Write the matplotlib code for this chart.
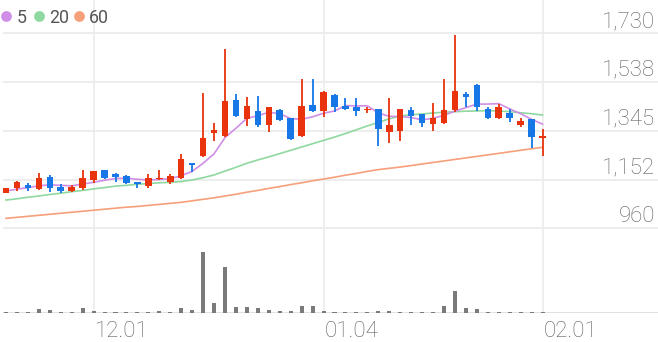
import matplotlib
matplotlib.use("Agg")
import matplotlib.pyplot as plt
import numpy as np

plt.rcParams['font.family'] = ['Roboto', 'DejaVu Sans']

# ---------------- data ----------------
x_labels = {8: "12.01", 29: "01.04", 49: "02.01"}

opens = [1101, 1121, 1130, 1116, 1162, 1123, 1109, 1120, 1151, 1190,
         1176, 1168, 1143, 1127, 1154, 1142, 1158, 1217, 1246, 1335,
         1324, 1467, 1390, 1424, 1368, 1426, 1394, 1326, 1448, 1422,
         1485, 1444, 1437, 1426, 1430, 1341, 1345, 1427, 1410, 1370,
         1374, 1427, 1489, 1524, 1431, 1394, 1414, 1368, 1390, 1315]
highs = [1120, 1146, 1140, 1179, 1171, 1134, 1131, 1189, 1187, 1192,
         1178, 1172, 1145, 1173, 1189, 1175, 1253, 1219, 1495, 1377,
         1666, 1489, 1479, 1481, 1440, 1432, 1396, 1548, 1550, 1500,
         1490, 1475, 1475, 1437, 1432, 1473, 1432, 1437, 1412, 1453,
         1548, 1722, 1499, 1529, 1440, 1450, 1430, 1394, 1390, 1352]
lows = [1099, 1109, 1108, 1113, 1105, 1099, 1104, 1112, 1140, 1155,
        1142, 1134, 1118, 1121, 1152, 1135, 1155, 1181, 1243, 1306,
        1320, 1400, 1364, 1359, 1341, 1383, 1308, 1322, 1420, 1398,
        1420, 1428, 1404, 1414, 1283, 1298, 1306, 1368, 1359, 1344,
        1370, 1420, 1440, 1423, 1392, 1392, 1381, 1361, 1276, 1246]
closes = [1118, 1142, 1121, 1160, 1121, 1108, 1125, 1158, 1185, 1158,
          1164, 1141, 1136, 1158, 1159, 1167, 1234, 1211, 1315, 1348,
          1462, 1403, 1443, 1367, 1437, 1387, 1311, 1443, 1423, 1499,
          1437, 1431, 1424, 1431, 1351, 1368, 1430, 1404, 1374, 1394,
          1427, 1503, 1479, 1440, 1394, 1440, 1394, 1385, 1319, 1326]

ma5 = [1108, 1115, 1121, 1128, 1132, 1130, 1128, 1135, 1142, 1150,
       1157, 1158, 1154, 1151, 1153, 1156, 1168, 1185, 1217, 1254,
       1318, 1355, 1394, 1404, 1418, 1412, 1393, 1390, 1400, 1414,
       1423, 1444, 1443, 1443, 1415, 1402, 1401, 1397, 1388, 1394,
       1406, 1422, 1436, 1450, 1450, 1452, 1431, 1412, 1390, 1371]
ma20 = [1072, 1077, 1083, 1088, 1094, 1099, 1105, 1110, 1116, 1121,
        1127, 1130, 1134, 1137, 1140, 1142, 1145, 1151, 1160, 1171,
        1186, 1201, 1217, 1230, 1242, 1255, 1268, 1281, 1294, 1307,
        1320, 1334, 1349, 1364, 1378, 1392, 1403, 1408, 1411, 1415,
        1418, 1420, 1422, 1423, 1424, 1423, 1420, 1416, 1412, 1407]
ma60 = [1000, 1004, 1008, 1012, 1016, 1020, 1024, 1028, 1032, 1036,
        1040, 1044, 1047, 1051, 1055, 1059, 1063, 1069, 1075, 1081,
        1088, 1095, 1103, 1110, 1118, 1125, 1133, 1140, 1148, 1155,
        1162, 1170, 1177, 1185, 1192, 1197, 1202, 1208, 1214, 1220,
        1226, 1232, 1238, 1244, 1250, 1256, 1262, 1268, 1274, 1280]
volumes = [2, 2, 3, 10, 8, 2, 2, 13, 6, 3,
           3, 3, 3, 3, 6, 3, 14, 7, 183, 28,
           138, 18, 18, 15, 8, 4, 6, 20, 20, 6,
           3, 3, 3, 3, 6, 6, 3, 3, 3, 3,
           19, 65, 13, 11, 3, 3, 3, 3, 3, 2]
volumes = [v * 1000 for v in volumes]

y_ticks = [960, 1152, 1345, 1538, 1730]
ma_names = ["5", "20", "60"]

# ---------------- style ----------------
RED = "#e8330c"
BLUE = "#1777e6"
MA_COLORS = ["#d08ee6", "#8fd8a0", "#f5a07a"]
GRID = "#ececec"
TXT = "#5f5f5f"

W, H = 658, 342
fig = plt.figure(figsize=(W / 100, H / 100), dpi=100)


def rect(x0, y0, x1, y1):
    return [x0 / W, 1 - y1 / H, (x1 - x0) / W, (y1 - y0) / H]


step = 10.95      # px per candle
x0px = 6.0        # px of first candle
xlim = (-x0px / step, (W - x0px) / step)

# price axes
g_top, g_bot = 33.0, 228.5
ppx = (y_ticks[-1] - y_ticks[0]) / (g_bot - g_top)
ax = fig.add_axes(rect(0, 0, W, 232))
ax.set_xlim(*xlim)
ax.set_ylim(y_ticks[0] - (232 - g_bot) * ppx, y_ticks[-1] + g_top * ppx)
ax.axis("off")

xs = np.arange(len(opens))
hx0 = (3 - x0px) / step
for t in y_ticks:
    ax.hlines(t, hx0, xlim[1], color=GRID, lw=1.3, zorder=0)
    ax.annotate(f"{t:,}", xy=(1, t), xycoords=("axes fraction", "data"),
                xytext=(-3, 6), textcoords="offset pixels",
                ha="right", va="baseline", fontsize=16, color=TXT,
                fontweight="light")

for i in x_labels:
    ax.axvline(i, color=GRID, lw=1.2, zorder=0)

# moving averages
for vals, c in zip([ma60, ma20, ma5], MA_COLORS[::-1]):
    ax.plot(xs, vals, color=c, lw=1.2, zorder=2)

# candles
min_body = 1.6 * ppx
for i in xs:
    o, h, l, c = opens[i], highs[i], lows[i], closes[i]
    col = RED if c >= o else BLUE
    ax.vlines(i, l, h, color=col, lw=1.3, zorder=3)
    bot = min(o, c)
    hgt = max(abs(c - o), min_body)
    if abs(c - o) < min_body:
        bot = (o + c) / 2 - hgt / 2
    ax.bar(i, hgt, bottom=bot, width=0.6, color=col, zorder=4, linewidth=0)

# volume axes
vol_top_px, vol_base_px = 232.0, 312.7
axv = fig.add_axes(rect(0, vol_top_px, W, vol_base_px))
axv.set_xlim(*xlim)
axv.set_ylim(0, max(volumes) * (vol_base_px - vol_top_px) / 61.0)
axv.axis("off")
for i in x_labels:
    axv.axvline(i, color=GRID, lw=1.2, zorder=0)
axv.hlines(0, hx0, xlim[1], color="#dedede", lw=1.3, zorder=1)
axv.bar(xs, volumes, width=0.37, color="#7a7a7a", zorder=2, linewidth=0)

for i, lab in x_labels.items():
    axv.annotate(lab, xy=(i, 0), xycoords=("data", "axes fraction"),
                 xytext=(1, -24.6), textcoords="offset pixels",
                 ha="left", va="baseline", fontsize=16, color=TXT,
                 fontweight="light", annotation_clip=False)

# legend
lg = fig.add_axes([0, 0, 1, 1])
lg.set_xlim(0, W)
lg.set_ylim(H, 0)
lg.axis("off")
lg.patch.set_alpha(0)
leg_pos = [(6.0, 16.5), (39.3, 49.5), (79.3, 88.5)]
for (cx, tx), name, c in zip(leg_pos, ma_names, MA_COLORS):
    lg.scatter([cx], [16.3], s=60, color=c, linewidths=0)
    lg.text(tx, 22.7, name, fontsize=12.8, color="#555555", ha="left",
            va="baseline")

fig.savefig("out.png", dpi=100)
